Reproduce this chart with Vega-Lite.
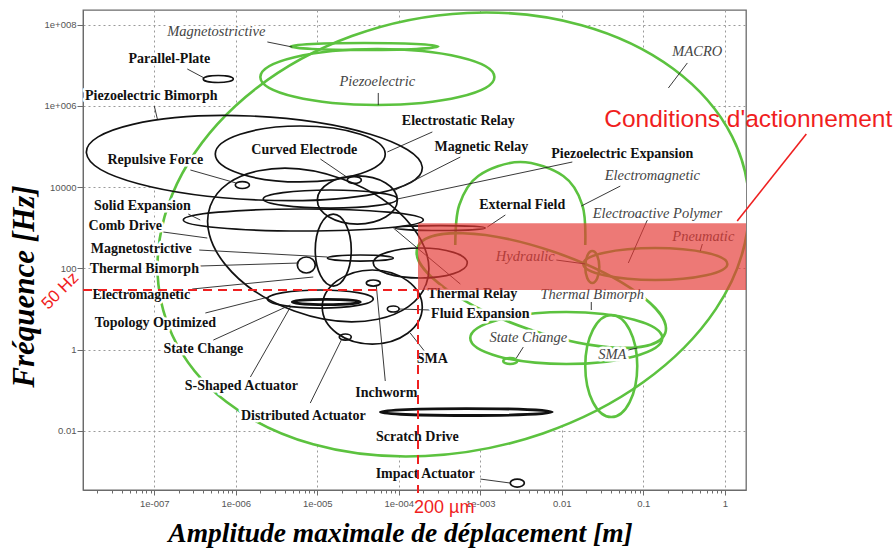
{
"$schema":"https://vega.github.io/schema/vega-lite/v6.json",
"width":663,"height":480,
"autosize":{"type":"none"},
"padding":{"left":83,"top":10,"right":150,"bottom":62},
"background":"white",
"config":{"view":{"stroke":"#6b6b6b","strokeWidth":1.3},
 "axis":{"domainColor":"#6b6b6b","tickColor":"#6b6b6b","labelColor":"#555","labelFont":"Liberation Sans","labelFontSize":9.5,"gridColor":"#9a9a9a","gridDash":[2,3],"gridWidth":1,"titleFont":"Liberation Serif","titleFontStyle":"italic","titleFontWeight":"bold","titleColor":"#000"}},
"datasets":{
"shapes":[
{"id":"G1","kind":"macro","k":0,"x":1.94,"y":1380},{"id":"G1","kind":"macro","k":1,"x":6.92e-4,"y":1.94e8},{"id":"G1","kind":"macro","k":2,"x":1.12e-7,"y":282},{"id":"G1","kind":"macro","k":3,"x":2.11e-4,"y":2.38e-3},
{"id":"G2","kind":"macro","k":0,"x":3.05e-4,"y":2.90e7},{"id":"G2","kind":"macro","k":1,"x":3.78e-5,"y":3.54e7},{"id":"G2","kind":"macro","k":2,"x":4.67e-6,"y":2.90e7},{"id":"G2","kind":"macro","k":3,"x":3.78e-5,"y":2.38e7},
{"id":"G3","kind":"macro","k":0,"x":1.49e-3,"y":5.15e6},{"id":"G3","kind":"macro","k":1,"x":5.44e-5,"y":2.52e7},{"id":"G3","kind":"macro","k":2,"x":2.00e-6,"y":5.15e6},{"id":"G3","kind":"macro","k":3,"x":5.44e-5,"y":1.05e6},
{"id":"G5","kind":"macro","k":0,"x":0.186,"y":2.55},{"id":"G5","kind":"macro","k":1,"x":8.09e-3,"y":252},{"id":"G5","kind":"macro","k":2,"x":1.69e-4,"y":316},{"id":"G5","kind":"macro","k":3,"x":3.88e-3,"y":3.20},
{"id":"G6","kind":"macro","k":0,"x":1.074,"y":128},{"id":"G6","kind":"macro","k":1,"x":0.1403,"y":316},{"id":"G6","kind":"macro","k":2,"x":0.01837,"y":128},{"id":"G6","kind":"macro","k":3,"x":0.1403,"y":51.5},
{"id":"G7","kind":"macro","k":0,"x":0.02884,"y":108},{"id":"G7","kind":"macro","k":1,"x":0.02366,"y":267},{"id":"G7","kind":"macro","k":2,"x":0.0194,"y":108},{"id":"G7","kind":"macro","k":3,"x":0.02366,"y":43.5},
{"id":"G8","kind":"macro","k":0,"x":0.171,"y":1.92},{"id":"G8","kind":"macro","k":1,"x":0.01135,"y":8.39},{"id":"G8","kind":"macro","k":2,"x":7.53e-4,"y":1.92},{"id":"G8","kind":"macro","k":3,"x":0.01135,"y":0.44},
{"id":"G9","kind":"macro","k":0,"x":0.0843,"y":0.393},{"id":"G9","kind":"macro","k":1,"x":0.0405,"y":7.08},{"id":"G9","kind":"macro","k":2,"x":0.0194,"y":0.393},{"id":"G9","kind":"macro","k":3,"x":0.0405,"y":0.0217},
{"id":"G10","kind":"macro","k":0,"x":2.84e-3,"y":0.521},{"id":"G10","kind":"macro","k":1,"x":2.33e-3,"y":0.618},{"id":"G10","kind":"macro","k":2,"x":1.91e-3,"y":0.521},{"id":"G10","kind":"macro","k":3,"x":2.33e-3,"y":0.44},
{"id":"B1","kind":"mems","k":0,"x":9.31e-7,"y":4.60e6},{"id":"B1","kind":"mems","k":1,"x":6.09e-7,"y":5.61e6},{"id":"B1","kind":"mems","k":2,"x":3.99e-7,"y":4.60e6},{"id":"B1","kind":"mems","k":3,"x":6.09e-7,"y":3.77e6},
{"id":"B2","kind":"mems","k":0,"x":1.94e-4,"y":31300},{"id":"B2","kind":"mems","k":1,"x":1.51e-6,"y":5.64e5},{"id":"B2","kind":"mems","k":2,"x":1.47e-8,"y":69200},{"id":"B2","kind":"mems","k":3,"x":1.89e-6,"y":4810},
{"id":"B3","kind":"mems","k":0,"x":6.82e-5,"y":65300},{"id":"B3","kind":"mems","k":1,"x":6.18e-6,"y":3.20e5},{"id":"B3","kind":"mems","k":2,"x":5.60e-7,"y":65300},{"id":"B3","kind":"mems","k":3,"x":6.18e-6,"y":13400},
{"id":"B4","kind":"mems","k":0,"x":1.47e-6,"y":11300},{"id":"B4","kind":"mems","k":1,"x":1.20e-6,"y":13700},{"id":"B4","kind":"mems","k":2,"x":9.86e-7,"y":11300},{"id":"B4","kind":"mems","k":3,"x":1.20e-6,"y":9250},
{"id":"B5","kind":"mems","k":0,"x":3.47e-5,"y":15000},{"id":"B5","kind":"mems","k":1,"x":2.84e-5,"y":18200},{"id":"B5","kind":"mems","k":2,"x":2.33e-5,"y":15000},{"id":"B5","kind":"mems","k":3,"x":2.84e-5,"y":12300},
{"id":"B6","kind":"mems","k":0,"x":9.60e-5,"y":4810},{"id":"B6","kind":"mems","k":1,"x":3.10e-5,"y":18800},{"id":"B6","kind":"mems","k":2,"x":1.00e-5,"y":4810},{"id":"B6","kind":"mems","k":3,"x":3.10e-5,"y":1230},
{"id":"B7","kind":"mems","k":0,"x":9.60e-5,"y":5090},{"id":"B7","kind":"mems","k":1,"x":1.45e-5,"y":8490},{"id":"B7","kind":"mems","k":2,"x":2.17e-6,"y":5090},{"id":"B7","kind":"mems","k":3,"x":1.45e-5,"y":3050},
{"id":"B8","kind":"mems","k":0,"x":2.00e-4,"y":1550},{"id":"B8","kind":"mems","k":1,"x":6.73e-6,"y":2890},{"id":"B8","kind":"mems","k":2,"x":2.27e-7,"y":1550},{"id":"B8","kind":"mems","k":3,"x":6.73e-6,"y":830},
{"id":"B9","kind":"mems","k":0,"x":2.17e-4,"y":41.0},{"id":"B9","kind":"mems","k":1,"x":2.03e-5,"y":15800},{"id":"B9","kind":"mems","k":2,"x":4.86e-7,"y":3420},{"id":"B9","kind":"mems","k":3,"x":5.22e-6,"y":8.87},
{"id":"B11","kind":"mems","k":0,"x":2.61e-5,"y":282},{"id":"B11","kind":"mems","k":1,"x":1.57e-5,"y":2170},{"id":"B11","kind":"mems","k":2,"x":9.44e-6,"y":282},{"id":"B11","kind":"mems","k":3,"x":1.57e-5,"y":36.6},
{"id":"B12","kind":"mems","k":0,"x":9.44e-6,"y":121},{"id":"B12","kind":"mems","k":1,"x":7.33e-6,"y":190},{"id":"B12","kind":"mems","k":2,"x":5.69e-6,"y":121},{"id":"B12","kind":"mems","k":3,"x":7.33e-6,"y":76.6},
{"id":"B13","kind":"mems","k":0,"x":8.57e-5,"y":179},{"id":"B13","kind":"mems","k":1,"x":3.37e-5,"y":213},{"id":"B13","kind":"mems","k":2,"x":1.33e-5,"y":179},{"id":"B13","kind":"mems","k":3,"x":3.37e-5,"y":151},
{"id":"B14","kind":"mems","k":0,"x":1.94e-4,"y":11.1},{"id":"B14","kind":"mems","k":1,"x":4.73e-5,"y":90.8},{"id":"B14","kind":"mems","k":2,"x":1.15e-5,"y":11.1},{"id":"B14","kind":"mems","k":3,"x":4.73e-5,"y":1.36},
{"id":"B15","kind":"mems","k":0,"x":5.93e-5,"y":43.5},{"id":"B15","kind":"mems","k":1,"x":4.86e-5,"y":51.5},{"id":"B15","kind":"mems","k":2,"x":3.99e-5,"y":43.5},{"id":"B15","kind":"mems","k":3,"x":4.86e-5,"y":36.6},
{"id":"B16","kind":"mems","k":0,"x":1.01e-4,"y":9.95},{"id":"B16","kind":"mems","k":1,"x":8.57e-5,"y":11.8},{"id":"B16","kind":"mems","k":2,"x":7.23e-5,"y":9.95},{"id":"B16","kind":"mems","k":3,"x":8.57e-5,"y":8.39},
{"id":"B17","kind":"mems","k":0,"x":2.61e-5,"y":2.03},{"id":"B17","kind":"mems","k":1,"x":2.21e-5,"y":2.41},{"id":"B17","kind":"mems","k":2,"x":1.86e-5,"y":2.03},{"id":"B17","kind":"mems","k":3,"x":2.21e-5,"y":1.71},
{"id":"B18","kind":"mems","k":0,"x":4.86e-5,"y":17.5},{"id":"B18","kind":"mems","k":1,"x":1.09e-5,"y":29.2},{"id":"B18","kind":"mems","k":2,"x":2.44e-6,"y":17.5},{"id":"B18","kind":"mems","k":3,"x":1.09e-5,"y":10.5},
{"id":"B19","kind":"bar","k":0,"x":3.37e-5,"y":14.8},{"id":"B19","kind":"bar","k":1,"x":1.29e-5,"y":17.1},{"id":"B19","kind":"bar","k":2,"x":4.93e-6,"y":14.8},{"id":"B19","kind":"bar","k":3,"x":1.29e-5,"y":12.8},
{"id":"B20","kind":"bar","k":0,"x":7.64e-3,"y":0.0289},{"id":"B20","kind":"bar","k":1,"x":6.73e-4,"y":0.0352},{"id":"B20","kind":"bar","k":2,"x":5.93e-5,"y":0.0289},{"id":"B20","kind":"bar","k":3,"x":6.73e-4,"y":0.0237},
{"id":"B21","kind":"mems","k":0,"x":3.47e-3,"y":5.15e-4},{"id":"B21","kind":"mems","k":1,"x":2.84e-3,"y":6.46e-4},{"id":"B21","kind":"mems","k":2,"x":2.33e-3,"y":5.15e-4},{"id":"B21","kind":"mems","k":3,"x":2.84e-3,"y":4.10e-4},
{"id":"B22","kind":"mems","k":0,"x":1.15e-3,"y":984},{"id":"B22","kind":"mems","k":1,"x":3.23e-4,"y":1130},{"id":"B22","kind":"mems","k":2,"x":9.06e-5,"y":984},{"id":"B22","kind":"mems","k":3,"x":3.23e-4,"y":853},
{"id":"B23","kind":"mems","k":0,"x":6.92e-4,"y":135},{"id":"B23","kind":"mems","k":1,"x":1.84e-4,"y":316},{"id":"B23","kind":"mems","k":2,"x":4.86e-5,"y":135},{"id":"B23","kind":"mems","k":3,"x":1.84e-4,"y":57.7}
],
"arcs":[
{"id":"G4","k":0,"x":4.93e-4,"y":375},{"id":"G4","k":1,"x":5.52e-4,"y":3620},{"id":"G4","k":2,"x":9.44e-4,"y":18800},{"id":"G4","k":3,"x":3.10e-3,"y":41500},{"id":"G4","k":4,"x":0.01042,"y":18800},{"id":"G4","k":5,"x":0.01787,"y":3620},{"id":"G4","k":6,"x":0.0194,"y":375}
],
"leaders":[
{"x":2.54e-7,"y":8.11e6,"x2":4.10e-7,"y2":4.86e6},
{"x":1e-7,"y":9.95e5,"x2":1.09e-7,"y2":4.75e5},
{"x":2.77e-7,"y":26400,"x2":1.01e-6,"y2":12600},
{"x":1.09e-5,"y":49200,"x2":2.40e-5,"y2":16700},
{"x":2.58e-4,"y":2.28e5,"x2":7.23e-5,"y2":73300},
{"x":5.69e-4,"y":55100,"x2":8.57e-5,"y2":8020},
{"x":0.01346,"y":41500,"x2":9.60e-5,"y2":5090},
{"x":2.03e-3,"y":2060,"x2":1.22e-3,"y2":1040},
{"x":0.0522,"y":10600,"x2":0.01734,"y2":3420},
{"x":0.112,"y":1550,"x2":0.0655,"y2":135},
{"x":0.347,"y":1.14e7,"x2":0.203,"y2":2.76e6},
{"x":8.57e-3,"y":160,"x2":0.0194,"y2":128},
{"x":5.60e-5,"y":2.08e6,"x2":5.60e-5,"y2":1.05e6},
{"x":2.44e-6,"y":3.75e7,"x2":4.93e-6,"y2":2.82e7},
{"x":2.61e-7,"y":2170,"x2":3.66e-7,"y2":1550},
{"x":1.29e-7,"y":783,"x2":4.47e-7,"y2":557},
{"x":3.56e-7,"y":282,"x2":1.33e-5,"y2":190},
{"x":3.66e-7,"y":114,"x2":5.85e-6,"y2":135},
{"x":2.92e-7,"y":30.9,"x2":8.93e-6,"y2":61.1},
{"x":4.23e-7,"y":7.93,"x2":2.51e-6,"y2":19.6},
{"x":5.30e-7,"y":1.71,"x2":4.67e-6,"y2":12.5},
{"x":1.51e-6,"y":0.210,"x2":4.67e-6,"y2":11.1},
{"x":8.20e-6,"y":0.0481,"x2":1.97e-5,"y2":1.71},
{"x":6.82e-5,"y":0.168,"x2":5.30e-5,"y2":36.6},
{"x":2.11e-4,"y":0.867,"x2":1.38e-4,"y2":2.55},
{"x":2.44e-4,"y":9.40,"x2":1.01e-4,"y2":9.95},
{"x":5.69e-4,"y":41.0,"x2":8.57e-5,"y2":984},
{"x":1.00e-3,"y":6.46e-4,"x2":2.33e-3,"y2":5.15e-4},
{"x":0.0230,"y":14.8,"x2":0.0230,"y2":9.40},
{"x":3.37e-3,"y":1.15,"x2":2.77e-3,"y2":0.618},
{"x":0.0655,"y":0.973,"x2":0.0843,"y2":1.09},
{"x":0.530,"y":397,"x2":0.500,"y2":267}
],
"labels":[
{"t":"Parallel-Plate","s":"b","x":1.53e-7,"y":1.43e7},
{"t":"Piezoelectric Bimorph","s":"b","x":9.19e-8,"y":1.75e6},
{"t":"Repulsive Force","s":"b","x":1.03e-7,"y":46500},
{"t":"Curved Electrode","s":"b","x":6.92e-6,"y":82000},
{"t":"Electrostatic Relay","s":"b","x":5.37e-4,"y":4.25e5},
{"t":"Magnetic Relay","s":"b","x":1.03e-3,"y":97300},
{"t":"Piezoelectric Expansion","s":"b","x":0.0552,"y":65300},
{"t":"Solid Expansion","s":"b","x":7.13e-8,"y":3420},
{"t":"Comb Drive","s":"b","x":4.41e-8,"y":1100},
{"t":"External Field","s":"b","x":3.27e-3,"y":3620},
{"t":"Magnetostrictive","s":"b","x":6.92e-8,"y":299},
{"t":"Thermal Bimorph","s":"b","x":7.54e-8,"y":96.2},
{"t":"Electromagnetic","s":"b","x":6.92e-8,"y":22.0},
{"t":"Thermal Relay","s":"b","x":7.98e-4,"y":23.3},
{"t":"Topology Optimized","s":"b","x":1.03e-7,"y":4.50},
{"t":"Fluid Expansion","s":"b","x":1.00e-3,"y":7.48},
{"t":"State Change","s":"b","x":3.99e-7,"y":1.03},
{"t":"SMA","s":"b","x":2.58e-4,"y":0.583},
{"t":"S-Shaped Actuator","s":"b","x":1.17e-6,"y":0.126},
{"t":"Inchworm","s":"b","x":7.03e-5,"y":0.0849},
{"t":"Distributed Actuator","s":"b","x":6.73e-6,"y":0.0230},
{"t":"Scratch Drive","s":"b","x":1.69e-4,"y":7.00e-3},
{"t":"Impact Actuator","s":"b","x":2.11e-4,"y":8.57e-4},
{"t":"Magnetostrictive","s":"i","x":5.77e-7,"y":6.61e7},
{"t":"Piezoelectric","s":"i","x":5.44e-5,"y":3.88e6},
{"t":"MACRO","s":"i","x":0.460,"y":2.13e7},
{"t":"Electromagnetic","s":"i","x":0.129,"y":18800},
{"t":"Electroactive Polymer","s":"i","x":0.149,"y":2170},
{"t":"Pneumatic","s":"r","x":0.545,"y":590},
{"t":"Hydraulic","s":"r","x":3.56e-3,"y":190},
{"t":"Thermal Bimorph","s":"i","x":0.02366,"y":22.0},
{"t":"State Change","s":"i","x":3.88e-3,"y":1.92},
{"t":"SMA","s":"i","x":0.0417,"y":0.733}
]
},
"encoding":{
 "x":{"field":"x","type":"quantitative","scale":{"type":"log","domain":[1.334e-8,1.82],"nice":false},
  "axis":{"title":"Amplitude maximale de déplacement [m]","titleFontSize":27.5,"titleX":317,"titleY":43,"titleBaseline":"middle","titleAlign":"center",
   "values":[2e-8,3e-8,4e-8,5e-8,6e-8,7e-8,8e-8,9e-8,1e-7,2e-7,3e-7,4e-7,5e-7,6e-7,7e-7,8e-7,9e-7,1e-6,2e-6,3e-6,4e-6,5e-6,6e-6,7e-6,8e-6,9e-6,1e-5,2e-5,3e-5,4e-5,5e-5,6e-5,7e-5,8e-5,9e-5,1e-4,2e-4,3e-4,4e-4,5e-4,6e-4,7e-4,8e-4,9e-4,0.001,0.002,0.003,0.004,0.005,0.006,0.007,0.008,0.009,0.01,0.02,0.03,0.04,0.05,0.06,0.07,0.08,0.09,0.1,0.2,0.3,0.4,0.5,0.6,0.7,0.8,0.9,1],
   "labelExpr":"abs(log(datum.value)/LN10 - round(log(datum.value)/LN10)) > 0.001 ? '' : datum.value < 5e-7 ? '1e-007' : datum.value < 5e-6 ? '1e-006' : datum.value < 5e-5 ? '1e-005' : datum.value < 5e-4 ? '1e-004' : datum.value < 5e-3 ? '1e-003' : datum.value < 0.05 ? '0.01' : datum.value < 0.5 ? '0.1' : '1'",
   "labelOverlap":false,"labelFlush":false,"labelPadding":3,"grid":true,
   "gridOpacity":{"condition":{"test":"abs(log(datum.value)/LN10 - round(log(datum.value)/LN10)) < 0.001","value":1},"value":0},
   "tickSize":{"condition":{"test":"abs(log(datum.value)/LN10 - round(log(datum.value)/LN10)) < 0.001","value":5},"value":3}}},
 "y":{"field":"y","type":"quantitative","scale":{"type":"log","domain":[3.47e-4,2.30e8],"nice":false},
  "axis":{"title":"Fréquence [Hz]","titleFontSize":31,"titleX":-59,"titleY":276,"titleAngle":-90,"titleBaseline":"middle","titleAlign":"center",
   "values":[0.01,1,100,10000,1000000,100000000],
   "labelExpr":"datum.value > 5e7 ? '1e+008' : datum.value > 5e5 ? '1e+006' : datum.value > 5e3 ? '10000' : datum.value > 50 ? '100' : datum.value > 0.5 ? '1' : '0.01'",
   "labelOverlap":false,"labelFlush":false,"tickSize":6,"labelPadding":1,"grid":true}}
},
"layer":[
 {"data":{"name":"shapes"},
  "mark":{"type":"line","interpolate":"cardinal-closed","tension":-0.657,"fill":"white","stroke":"white","strokeOpacity":0,"clip":true},
  "encoding":{"detail":{"field":"id"},"order":{"field":"k","type":"quantitative"}}},
 {"data":{"name":"shapes"},"transform":[{"filter":"datum.kind == 'macro'"}],
  "mark":{"type":"line","interpolate":"cardinal-closed","tension":-0.657,"color":"#5cc23f","strokeWidth":2.6,"clip":true},
  "encoding":{"detail":{"field":"id"},"order":{"field":"k","type":"quantitative"}}},
 {"data":{"name":"arcs"},
  "mark":{"type":"line","interpolate":"cardinal","color":"#5cc23f","strokeWidth":2.6,"clip":true},
  "encoding":{"detail":{"field":"id"},"order":{"field":"k","type":"quantitative"}}},
 {"data":{"name":"shapes"},"transform":[{"filter":"datum.kind == 'mems'"}],
  "mark":{"type":"line","interpolate":"cardinal-closed","tension":-0.657,"color":"#111","strokeWidth":1.7,"clip":true},
  "encoding":{"detail":{"field":"id"},"order":{"field":"k","type":"quantitative"}}},
 {"data":{"name":"shapes"},"transform":[{"filter":"datum.kind == 'bar'"}],
  "mark":{"type":"line","interpolate":"cardinal-closed","tension":-0.657,"color":"#111","strokeWidth":2.8,"clip":true},
  "encoding":{"detail":{"field":"id"},"order":{"field":"k","type":"quantitative"}}},
 {"data":{"name":"leaders"},
  "mark":{"type":"rule","color":"#222","strokeWidth":0.9},
  "encoding":{"x2":{"field":"x2"},"y2":{"field":"y2"}}},
 {"data":{"name":"labels"},"transform":[{"filter":"datum.s == 'b'"}],
  "mark":{"type":"text","font":"Liberation Serif","fontWeight":"bold","fontSize":14,"color":"white","stroke":"white","strokeWidth":5,"strokeJoin":"round","align":"center","baseline":"middle"},
  "encoding":{"text":{"field":"t"}}},
 {"data":{"name":"labels"},"transform":[{"filter":"datum.s == 'i'"}],
  "mark":{"type":"text","font":"Liberation Serif","fontStyle":"italic","fontSize":14.5,"color":"white","stroke":"white","strokeWidth":5,"strokeJoin":"round","align":"center","baseline":"middle"},
  "encoding":{"text":{"field":"t"}}},
 {"data":{"name":"labels"},"transform":[{"filter":"datum.s == 'b'"}],
  "mark":{"type":"text","font":"Liberation Serif","fontWeight":"bold","fontSize":14,"color":"#111","align":"center","baseline":"middle"},
  "encoding":{"text":{"field":"t"}}},
 {"data":{"name":"labels"},"transform":[{"filter":"datum.s != 'b'"}],
  "mark":{"type":"text","font":"Liberation Serif","fontStyle":"italic","fontSize":14.5,"color":"#444","align":"center","baseline":"middle"},
  "encoding":{"text":{"field":"t"}}},
 {"data":{"values":[{"x":1.72e-4,"x2":1.82,"y":29.2,"y2":1283}]},
  "mark":{"type":"rect","color":"#e53935","opacity":0.68},
  "encoding":{"x2":{"field":"x2"},"y2":{"field":"y2"}}},
 {"data":{"values":[{"x":1.334e-8,"y":29.2,"x2":1.72e-4,"y2":29.2},{"x":1.72e-4,"y":29.2,"x2":1.72e-4,"y2":2.92e-4}]},
  "mark":{"type":"rule","color":"#ee2020","strokeWidth":2,"strokeDash":[9,6]},
  "encoding":{"x2":{"field":"x2"},"y2":{"field":"y2"}}},
 {"data":{"values":[{"x":10,"y":2.03e5,"x2":1.42,"y2":1460}]},
  "mark":{"type":"rule","color":"#ee2020","strokeWidth":1.6},
  "encoding":{"x2":{"field":"x2"},"y2":{"field":"y2"}}},
 {"data":{"values":[{"t":"Conditions d'actionnement","x":1.94,"y":4.50e5}]},
  "mark":{"type":"text","font":"Liberation Sans","fontSize":24.5,"color":"#f01e1e","align":"center","baseline":"middle"},
  "encoding":{"text":{"field":"t"}}},
 {"data":{"values":[{"t":"200 µm","x":3.61e-4,"y":1.25e-4}]},
  "mark":{"type":"text","font":"Liberation Sans","fontSize":18,"color":"#f01e1e","align":"center","baseline":"middle"},
  "encoding":{"text":{"field":"t"}}},
 {"data":{"values":[{"t":"50 Hz","x":7.03e-9,"y":27.6}]},
  "mark":{"type":"text","font":"Liberation Sans","fontSize":17,"angle":-45,"color":"#f01e1e","align":"center","baseline":"middle"},
  "encoding":{"text":{"field":"t"}}}
]
}
